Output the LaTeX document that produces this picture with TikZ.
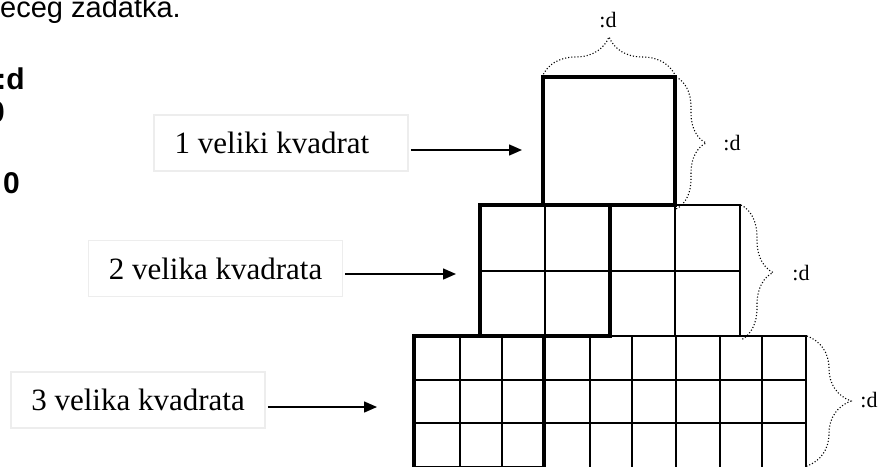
\documentclass[tikz,border=0pt]{standalone}
\usepackage{fontspec}
\setmainfont{Liberation Serif}
\newfontfamily\arialf{Liberation Sans}
\usetikzlibrary{decorations.pathreplacing,arrows.meta,calc}
\begin{document}
\begin{tikzpicture}[x=1pt,y=-1pt,
  gthin/.style={line width=1.6pt, line cap=rect},
  gthick/.style={line width=3.6pt, line join=miter},
  lbl/.style={draw=black!7, line width=1.5pt, minimum height=56pt, minimum width=254pt,
              inner sep=0pt, font=\fontsize{31}{31}\selectfont},
  arr/.style={line width=1.5pt, -{Triangle[length=13pt,width=11pt]}},
  brc/.style={decorate, decoration={brace, amplitude=#1}, line width=1.1pt, dash pattern=on 1.1pt off 2pt},
  dl/.style={font=\fontsize{22}{22}\selectfont, inner sep=0pt},
  sidetxt/.style={font=\arialf\fontsize{29}{29}\selectfont, anchor=base east, inner sep=0pt},
  sidebold/.style={font=\arialf\bfseries\fontsize{30}{30}\selectfont, anchor=base east, inner sep=0pt}
]
\useasboundingbox (0,0) rectangle (881,466);
\clip (0,0) rectangle (881,466);
\fill[white] (0,0) rectangle (881,466);

% left fragments of text
\node[sidetxt] (top) at (181,17) {eceg zadatka.};
\node[sidebold] (fa) at (25,89) {:d};
\node[sidebold] (fb) at (5,122) {0};
\node[sidebold] (fc) at (20,193) {0};

% corner coordinates
\coordinate (s1a) at (543,77);  \coordinate (s1b) at (675,205);
\coordinate (m1a) at (480,205); \coordinate (m1b) at (610,336);
\coordinate (m2a) at (610,205); \coordinate (m2b) at (740,336);
\coordinate (b1a) at (414,336); \coordinate (b1b) at (544,468);
\coordinate (bra) at (414,336); \coordinate (brb) at (806,468);

% middle row thin lines
\draw[gthin] (m2a) rectangle (m2b);
\draw[gthin] (480,271) -- (740,271);
\foreach \x in {545,675} \draw[gthin] (\x,205) -- (\x,336);

% bottom row thin lines
\draw[gthin] (bra) rectangle (brb);
\foreach \y in {380,423} \draw[gthin] (414,\y) -- (806,\y);
\foreach \x in {460,502,590,632,676,720,762} \draw[gthin] (\x,336) -- (\x,468);

% thick outlines of big squares
\draw[gthick] (b1a) rectangle (b1b);
\draw[gthick] (m1a) rectangle (m1b);
\draw[gthick] (s1a) rectangle (s1b);

% braces
\coordinate (bt1) at (542,77);  \coordinate (bt2) at (676,77);
\coordinate (r1a) at (676,77);  \coordinate (r1b) at (676,209);
\coordinate (r2a) at (741,205); \coordinate (r2b) at (741,340);
\coordinate (r3a) at (807,336); \coordinate (r3b) at (807,466);
\draw[brc=40] (bt1) -- (bt2);
\draw[brc=30] (r1a) -- (r1b);
\draw[brc=32] (r2a) -- (r2b);
\draw[brc=44] (r3a) -- (r3b);
\node[dl] (d0) at (608,20) {:d};
\node[dl] (d1) at (732,143) {:d};
\node[dl] (d2) at (801,273) {:d};
\node[dl] (d3) at (869,400) {:d};

% label boxes
\node[lbl] (L1) at (281,143) {\hspace*{-18pt}1 veliki kvadrat};
\node[lbl] (L2) at (215.5,268.5) {2 velika kvadrata};
\node[lbl] (L3) at (138,400) {3 velika kvadrata};

% arrows
\coordinate (e1) at (522,150);
\coordinate (e2) at (456,274);
\coordinate (e3) at (377,407);
\draw[arr] ([xshift=2pt]L1.east |- e1) -- (e1);
\draw[arr] ([xshift=2pt]L2.east |- e2) -- (e2);
\draw[arr] ([xshift=2pt]L3.east |- e3) -- (e3);
\end{tikzpicture}
\end{document}
